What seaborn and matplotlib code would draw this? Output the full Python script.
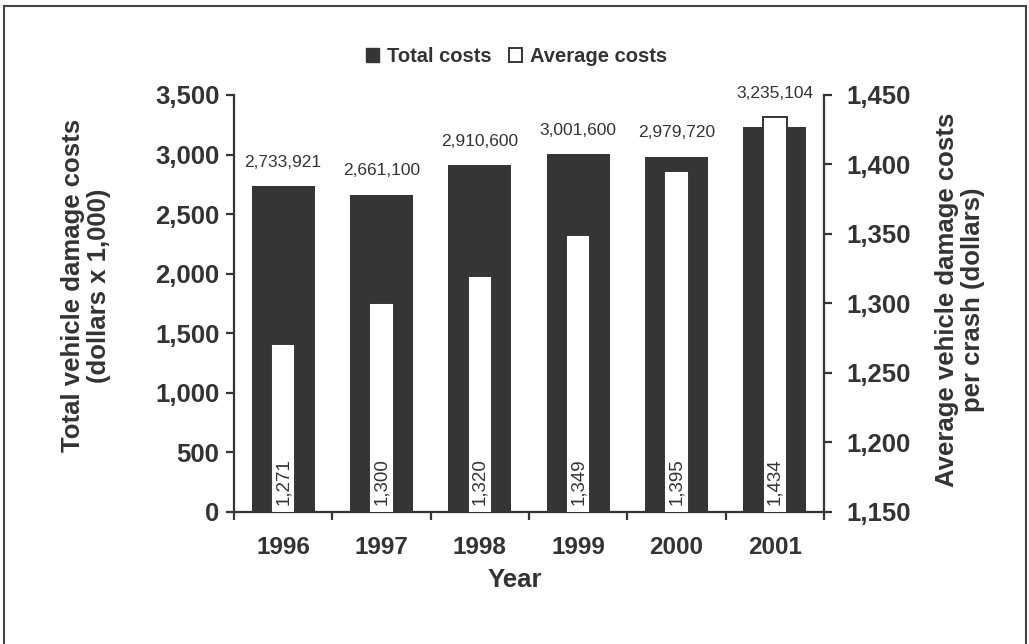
import matplotlib
matplotlib.use("Agg")
import matplotlib.pyplot as plt
from matplotlib.patches import Patch, Rectangle
from matplotlib.ticker import FuncFormatter, FixedLocator
import seaborn as sns
import pandas as pd

# data
years = ["1996", "1997", "1998", "1999", "2000", "2001"]
total_costs = [2733921, 2661100, 2910600, 3001600, 2979720, 3235104]   # dollars x 1,000
average_costs = [1271, 1300, 1320, 1349, 1395, 1434]                  # dollars per crash

sns.set_theme(style="white")
plt.rcParams['font.family'] = ['Liberation Sans', 'DejaVu Sans']

dark = "#353535"
txt = "#333333"

df = pd.DataFrame({"Year": years,
                   "Total": [v / 1000 for v in total_costs],
                   "Average": average_costs})

fig = plt.figure(figsize=(10.29, 6.44), dpi=100)
ax = fig.add_axes([0.2274, 0.205, 0.5734, 0.6475])

sns.barplot(data=df, x="Year", y="Total", color=dark, width=0.64,
            saturation=1, ax=ax, linewidth=0)
ax2 = ax.twinx()
sns.barplot(data=df, x="Year", y="Average", color="white", width=0.25,
            saturation=1, ax=ax2, edgecolor=dark, linewidth=1.4)

ax.set_xlim(-0.5, 5.5)
ax.set_ylim(0, 3500)
ax2.set_ylim(1150, 1450)
ax.set_yticks(range(0, 3501, 500))
ax2.set_yticks(range(1150, 1451, 50))
fmt = FuncFormatter(lambda v, p: f"{v:,.0f}")
ax.yaxis.set_major_formatter(fmt)
ax2.yaxis.set_major_formatter(fmt)

# total labels above the bars
for i, v in enumerate(total_costs):
    top = max(v / 1000, (average_costs[i] - 1150) / 300 * 3500)
    ax.annotate(f"{v:,}", (i, top), xytext=(0, 12), textcoords="offset points",
                ha="center", va="bottom", fontsize=12.5, color=txt)

# average labels inside the white bars
for i, v in enumerate(average_costs):
    ax2.annotate(f"{v:,}", (i, 1150), xytext=(0, 5), textcoords="offset points",
                 ha="center", va="bottom", rotation=90, fontsize=13.5, color=txt)

# ticks: labels at centers, tick marks at category boundaries
for a in (ax, ax2):
    a.set_xlabel("")
    a.set_ylabel("")
    for s in a.spines.values():
        s.set_color(dark)
        s.set_linewidth(1.6)
    a.spines["top"].set_visible(False)
    a.tick_params(axis="y", length=6, width=1.6, color=dark, direction="out",
                  labelsize=18.5, labelcolor=txt)
ax.tick_params(axis="y", pad=4.5)
ax2.tick_params(axis="y", pad=10)
ax.spines["right"].set_visible(False)
ax2.spines["left"].set_visible(False)
ax2.spines["bottom"].set_visible(False)
ax.tick_params(axis="y", left=True)
ax2.tick_params(axis="y", right=True)
ax.set_xticks(range(len(years)))
ax.set_xticklabels(years)
ax.xaxis.set_minor_locator(FixedLocator([i - 0.5 for i in range(len(years) + 1)]))
ax.tick_params(axis="x", which="major", length=0, labelsize=17.5, labelcolor=txt, pad=17)
ax.tick_params(axis="x", which="minor", length=6, width=1.6, color=dark,
               direction="out", bottom=True)
for lab in ax.get_xticklabels() + ax.get_yticklabels() + ax2.get_yticklabels():
    lab.set_fontweight("bold")

fig.text(0.5, 0.1, "Year", ha="center", va="center", fontsize=18.5,
         fontweight="bold", color=txt)
fig.text(0.084, 0.556, "Total vehicle damage costs\n(dollars x 1,000)", rotation=90,
         ha="center", va="center", fontsize=18.5, fontweight="bold", color=txt,
         linespacing=1.1, multialignment="center")
fig.text(0.933, 0.534, "Average vehicle damage costs\nper crash (dollars)", rotation=90,
         ha="center", va="center", fontsize=18.5, fontweight="bold", color=txt,
         linespacing=1.1, multialignment="center")

handles = [Patch(facecolor=dark, edgecolor=dark),
           Patch(facecolor="white", edgecolor=dark, linewidth=1.4)]
fig.legend(handles, ["Total costs", "Average costs"], loc="center",
           bbox_to_anchor=(0.502, 0.912), ncol=2, frameon=False,
           prop={"size": 14.5, "weight": "bold"}, labelcolor=txt,
           handlelength=0.65, handleheight=0.65, handletextpad=0.4, columnspacing=0.85)

# outer frame
fig.patches.append(Rectangle((0.004, -0.01), 0.993, 1.0007, transform=fig.transFigure,
                             fill=False, edgecolor="#444444", linewidth=1.5))

fig.savefig("out.png", dpi=100)
